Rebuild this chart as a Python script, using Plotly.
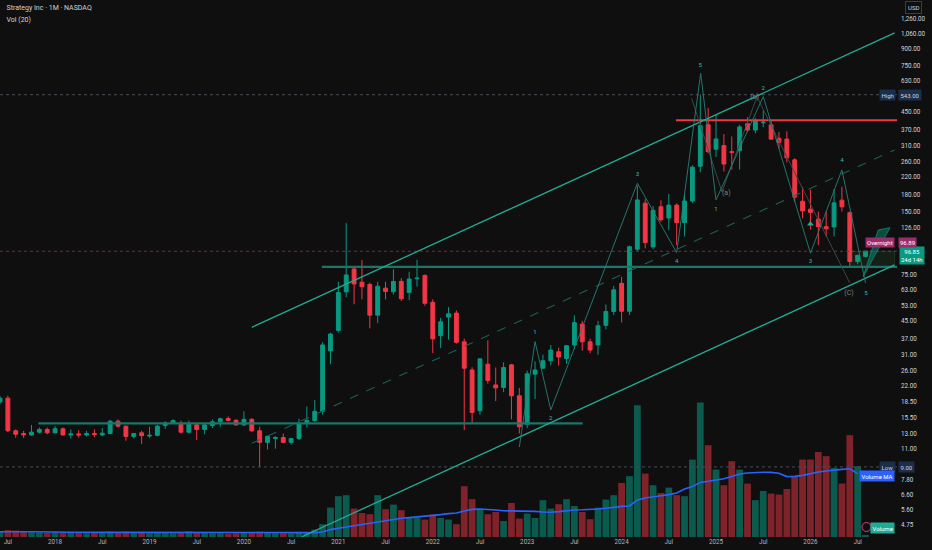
import plotly.graph_objects as go

# ---------------- data (monthly candles, Jun 2017 .. Aug 2026) ----------------
OPEN = [18.4, 19.2, 13.4, 13.0, 12.8, 13.2, 13.6, 13.1, 13.7, 12.8, 12.95, 12.8, 13.0, 12.8, 13.0, 14.9, 14.1, 12.6,
        13.1, 12.65, 12.75, 14.2, 14.6, 14.4, 13.2, 14.3, 13.6, 14.2, 14.8, 15.35, 15.05, 14.3, 15.2, 13.4, 11.8, 12.3,
        12.45, 11.8, 12.3, 14.5, 15.0, 16.6, 32.3, 40.5, 61.9, 79.7, 68.9, 67.2, 47.9, 64.5, 62.0, 69.5, 61.5, 71.5,
        74.2, 55.2, 38.2, 46.9, 49.0, 35.7, 26.2, 16.7, 27.9, 22.2, 21.6, 27.7, 19.7, 14.4, 25.0, 26.7, 29.0, 32.0,
        29.7, 34.5, 43.4, 35.7, 34.5, 42.8, 49.9, 68.0, 50.0, 99.0, 164.5, 101.6, 158.2, 139.6, 161.0, 132.7, 168.4,
        247.0, 390.0, 298.0, 310.0, 290.0, 293.0, 395.0, 368.0, 399.0, 390.0, 336.0, 333.0, 265.0, 168.0, 154.0,
        138.0, 127.0, 126.5, 170.0, 148.0, 86.5, 91.5]
HIGH = [19.6, 19.7, 13.6, 13.4, 14.3, 13.9, 13.9, 14.1, 13.9, 13.6, 13.5, 13.4, 13.6, 13.8, 15.1, 15.2, 14.2, 13.1,
        13.4, 14.0, 14.3, 14.9, 15.2, 15.0, 15.0, 14.5, 14.4, 15.2, 15.5, 15.7, 15.2, 16.6, 15.4, 14.0, 12.7, 12.6,
        13.0, 12.4, 15.3, 17.5, 18.8, 35.5, 39.5, 69.2, 132.0, 81.5, 88.0, 68.5, 69.2, 69.2, 79.4, 72.0, 77.3, 88.2,
        75.0, 57.0, 46.5, 52.3, 50.5, 37.0, 27.0, 29.7, 36.3, 26.9, 28.5, 28.0, 21.5, 26.0, 28.8, 31.0, 34.5, 33.5,
        34.5, 47.8, 45.0, 37.0, 45.0, 53.9, 66.0, 73.0, 103.0, 200.0, 172.0, 159.0, 170.0, 182.0, 164.0, 181.0, 250.0,
        543.0, 470.0, 435.0, 352.0, 343.0, 390.0, 424.0, 420.0, 457.0, 405.0, 360.0, 363.0, 270.0, 197.0, 191.0,
        150.0, 150.0, 192.0, 197.0, 150.0, 93.0, 97.5]
LOW = [18.0, 13.2, 12.4, 12.4, 12.7, 13.0, 12.9, 13.0, 12.7, 12.3, 12.4, 12.6, 12.5, 12.6, 12.9, 13.9, 12.0, 12.3,
       11.6, 12.4, 12.6, 13.7, 14.4, 13.0, 13.0, 12.1, 12.9, 13.8, 14.0, 14.9, 14.2, 14.1, 13.2, 9.0, 10.9, 11.0,
       11.7, 11.5, 12.1, 13.9, 14.8, 16.0, 27.9, 39.5, 58.4, 54.0, 57.0, 41.4, 43.9, 57.0, 60.0, 56.0, 56.5, 65.5,
       53.1, 31.5, 33.3, 36.6, 35.0, 13.5, 14.6, 16.0, 22.5, 18.6, 20.5, 15.2, 13.0, 13.8, 19.0, 26.5, 27.5, 27.5,
       28.0, 33.0, 32.4, 31.5, 31.0, 41.0, 48.0, 44.2, 48.0, 97.0, 100.0, 99.0, 134.0, 122.0, 103.5, 114.0, 165.0,
       231.0, 285.0, 274.0, 233.0, 238.0, 238.0, 360.0, 355.0, 380.0, 330.0, 300.0, 258.0, 167.0, 139.0, 123.0,
       103.6, 114.0, 114.0, 150.0, 82.0, 84.0, 90.5]
CLOSE = [19.2, 13.4, 12.9, 12.8, 13.2, 13.6, 13.1, 13.7, 12.8, 12.95, 12.8, 13.0, 12.85, 13.05, 14.9, 14.1, 12.6, 13.0,
         12.7, 12.75, 14.1, 14.6, 15.0, 13.2, 14.4, 13.6, 14.3, 14.8, 15.3, 15.0, 14.3, 15.2, 13.4, 11.8, 12.6, 12.45,
         11.8, 12.3, 14.5, 15.0, 16.6, 34.5, 38.9, 61.4, 74.6, 67.5, 65.5, 47.9, 65.9, 62.2, 69.4, 57.4, 71.3, 72.0,
         54.6, 36.9, 44.5, 48.6, 35.5, 26.7, 16.4, 29.6, 23.3, 21.5, 26.9, 19.7, 14.0, 25.1, 26.2, 29.0, 32.6, 30.2,
         34.2, 44.1, 35.7, 32.6, 42.6, 49.9, 63.3, 50.0, 101.8, 170.4, 106.5, 152.0, 137.0, 161.0, 132.7, 168.4, 244.5,
         386.0, 290.0, 333.7, 253.0, 288.0, 381.0, 368.0, 405.0, 401.0, 333.0, 321.0, 271.0, 176.0, 151.0, 148.5,
         127.0, 124.0, 165.0, 158.0, 86.5, 92.6, 96.85]
VOLUME = [30, 34, 32, 25, 23, 22, 20, 23, 24, 22, 20, 19, 20, 20, 27, 23, 27, 20, 22, 19, 22, 20, 19, 23, 28, 23,
          20, 19, 19, 17, 19, 20, 22, 27, 22, 19, 19, 19, 23, 25, 37, 64, 147, 204, 209, 142, 120, 114, 209, 139,
          162, 134, 97, 97, 87, 112, 95, 87, 64, 254, 189, 139, 114, 125, 80, 170, 92, 117, 95, 184, 142, 164, 189,
          155, 125, 89, 147, 187, 209, 270, 304, 659, 317, 259, 220, 247, 209, 204, 387, 672, 459, 337, 259, 379,
          337, 267, 184, 230, 217, 212, 240, 300, 387, 387, 425, 404, 345, 267, 509, 354, 10]
VOL_MA = [26, 27, 27, 26, 26, 25, 25, 25, 24, 24, 24, 23, 23, 23, 23, 23, 23, 23, 22, 22, 22, 22, 22, 22, 22, 22,
          22, 21, 21, 21, 21, 21, 21, 21, 21, 21, 21, 21, 21, 21, 22, 25, 37, 44, 50, 56, 62, 70, 76, 83, 89, 94, 97,
          100, 104, 108, 112, 117, 120, 130, 138, 140, 139, 135, 131, 131, 130, 130, 128, 125, 124, 127, 132, 135,
          136, 137, 140, 144, 150, 153, 155, 185, 195, 202, 206, 212, 220, 240, 253, 273, 280, 287, 291, 303, 315,
          320, 323, 324, 323, 319, 302, 303, 308, 318, 325, 330, 335, 338, 341, 317]

X_TICK_POS = [1, 7, 13, 19, 25, 31, 37, 43, 49, 55, 61, 67, 73, 79, 85, 91, 97, 103, 109]
X_TICK_TEXT = ['Jul', '2018', 'Jul', '2019', 'Jul', '2020', 'Jul', '2021', 'Jul', '2022', 'Jul', '2023',
               'Jul', '2024', 'Jul', '2025', 'Jul', '2026', 'Jul']
PRICE_TICKS = [1260, 1060, 900, 750, 630, 450, 370, 310, 260, 220, 180, 150, 126, 75, 63, 53, 45, 37, 31, 26,
               22, 18.5, 15.5, 13, 11, 7.8, 6.6, 5.6, 4.75]

HIGH_MARK = 543.0
LOW_MARK = 9.0
LAST_PRICE = 96.85
OVERNIGHT_PRICE = 96.89

# drawings (month index, price)
UPPER_CH_X, UPPER_CH_Y = [32.0, 113.7], [41.9, 1073]
LOWER_CH_X, LOWER_CH_Y = [38.35, 113.7], [4.17, 83.3]
MID_CH_X, MID_CH_Y = [32.0, 113.7], [11.67, 295.7]
SUP_LOW_X, SUP_LOW_Y = [4.88, 74.05], [14.53, 14.53]
SUP_HIGH_X, SUP_HIGH_Y = [40.9, 114.0], [81.5, 81.5]
RESIST_X, RESIST_Y = [85.9, 114.0], [410, 410]
WAVE_X = [66.0, 68.0, 70.0, 81.0, 86.0, 89.05, 91.0, 97.0, 103.0, 107.0, 110.0]
WAVE_Y = [11.2, 35.8, 16.85, 204.9, 95.4, 688, 170.5, 531.9, 94.7, 237.2, 68.1]
ABC_X = [87.9, 91.75, 96.2, 108.0]
ABC_Y = [522, 186.4, 530, 68.3]
WAVE_LBL_X = [68.0, 70.0, 81.0, 86.0, 89.0, 91.0, 97.0, 103.0, 107.0, 110.05]
WAVE_LBL_Y = [39.4, 15.27, 224.3, 86.1, 753, 152.6, 582, 86.1, 262.8, 61.1]
WAVE_LBL_T = ['1', '2', '3', '4', '5', '1', '2', '3', '4', '5']
ABC_LBL_X = [92.3, 95.9, 107.9]
ABC_LBL_Y = [184.3, 530, 61.1]
ABC_LBL_T = ['(a)', '(b)', '(C)']
TRI_X, TRI_Y = [103.0], [130.7]
ARROW_X = [109.71, 111.61, 113.1, 109.71]
ARROW_Y = [73.2, 122.4, 125.5, 73.2]
ZONE_X = [108.0, 113.7, 113.7, 108.0, 108.0]
ZONE_Y = [81.5, 81.5, 96.85, 96.85, 81.5]

# ---------------- styling ----------------
BG = '#0f0f0f'
UP = '#089981'
DN = '#f23645'
VOL_UP = 'rgba(8,153,129,0.55)'
VOL_DN = 'rgba(242,54,69,0.5)'
TEAL = '#22ab94'
FONT = 'Roboto'
PLOT_W, PLOT_H = 897, 537

idx = list(range(len(OPEN)))
vol_colors = [VOL_UP if c >= o else VOL_DN for o, c in zip(OPEN, CLOSE)]

fig = go.Figure()

fig.add_trace(go.Bar(x=idx, y=VOLUME, marker=dict(color=vol_colors, line=dict(width=0)),
                     width=0.86, yaxis='y', hoverinfo='skip'))
fig.add_trace(go.Scatter(x=idx[:len(VOL_MA)], y=VOL_MA, mode='lines',
                         line=dict(color='#2962ff', width=1.6), yaxis='y', hoverinfo='skip'))


def pline(x, y, color, width=1, dash='solid', opacity=1.0):
    fig.add_trace(go.Scatter(x=x, y=y, mode='lines', yaxis='y2', opacity=opacity,
                             line=dict(color=color, width=width, dash=dash), hoverinfo='skip'))


# dotted reference lines
pline([0, 114], [HIGH_MARK, HIGH_MARK], '#4a4d56', 1, 'dot')
pline([0, 114], [LOW_MARK, LOW_MARK], '#4a4d56', 1, 'dot')
pline([0, 114], [LAST_PRICE, LAST_PRICE], '#6e2f58', 1, 'dot')

# zone
fig.add_trace(go.Scatter(x=ZONE_X, y=ZONE_Y, mode='lines', fill='toself', yaxis='y2',
                         fillcolor='rgba(76,175,80,0.10)', line=dict(color='rgba(76,175,80,0.18)', width=1),
                         hoverinfo='skip'))

fig.add_trace(go.Candlestick(x=idx, open=OPEN, high=HIGH, low=LOW, close=CLOSE, yaxis='y2',
                             whiskerwidth=0,
                             increasing=dict(line=dict(color=UP, width=1), fillcolor=UP),
                             decreasing=dict(line=dict(color=DN, width=1), fillcolor=DN),
                             hoverinfo='skip'))

fig.add_trace(go.Scatter(x=ARROW_X, y=ARROW_Y, mode='lines', fill='toself', yaxis='y2',
                         fillcolor='rgba(8,153,129,0.45)', line=dict(color='#0f7a69', width=1),
                         hoverinfo='skip'))

# drawings
pline(SUP_LOW_X, SUP_LOW_Y, '#1d7568', 2.2)
pline(SUP_HIGH_X, SUP_HIGH_Y, '#1d7568', 2.2)
pline(RESIST_X, RESIST_Y, '#f23645', 2)
pline(UPPER_CH_X, UPPER_CH_Y, TEAL, 1.3)
pline(LOWER_CH_X, LOWER_CH_Y, TEAL, 1.3)
pline(MID_CH_X, MID_CH_Y, '#1b5f55', 1.1, 'dash')
pline(ABC_X, ABC_Y, '#3b4a48', 1)
pline(WAVE_X, WAVE_Y, '#2a7f76', 1, opacity=0.9)

fig.add_trace(go.Scatter(x=WAVE_LBL_X, y=WAVE_LBL_Y, text=WAVE_LBL_T, mode='text', yaxis='y2',
                         textfont=dict(family=FONT, size=6, color='#4fb3a8'), hoverinfo='skip'))
fig.add_trace(go.Scatter(x=ABC_LBL_X, y=ABC_LBL_Y, text=ABC_LBL_T, mode='text', yaxis='y2',
                         textfont=dict(family=FONT, size=7, color='#6f8583'), hoverinfo='skip'))
fig.add_trace(go.Scatter(x=TRI_X, y=TRI_Y, mode='markers', yaxis='y2',
                         marker=dict(symbol='triangle-up', size=6, color='#22ab94'), hoverinfo='skip'))


def px(x):
    return x / PLOT_W


def py(y):
    return 1 - y / PLOT_H


ann = []


def label(text, x, y, bg=None, color='#d1d4dc', size=6, border=None, pad=1.5, anchor='center'):
    d = dict(text=text, x=px(x), y=py(y), xref='paper', yref='paper', showarrow=False,
             xanchor=anchor, yanchor='middle', font=dict(family=FONT, size=size, color=color),
             borderpad=pad)
    if bg:
        d['bgcolor'] = bg
    if border:
        d['bordercolor'] = border
        d['borderwidth'] = 1
    ann.append(d)


label('Strategy Inc · 1M · NASDAQ', 4, 8, size=7, anchor='left')
label('Vol (20)', 4, 19, size=7, anchor='left')
label('USD', 913, 8, bg=BG, border='#3a3d45', pad=2)
label('High', 887.5, 95, bg='#1b2f4d')
label(f'{HIGH_MARK:,.2f}', 910, 95, bg='#1b2f4d')
label('Low', 887, 467, bg='#1b2f4d')
label(f'{LOW_MARK:,.2f}', 906, 467, bg='#1b2f4d')
label('Volume MA', 877, 476, bg='#2962ff', color='#ffffff')
label('Volume', 882, 527.5, bg='#22ab94', color='#ffffff')
label(f'{LAST_PRICE:,.2f}<br>24d 14h', 912, 255, bg=UP, color='#ffffff', pad=1)
label('Overnight', 879.5, 242.5, bg='#9b2c6e', color='#ffffff', pad=1)
label(f'{OVERNIGHT_PRICE:,.2f}', 907, 242.5, bg='#9b2c6e', color='#ffffff', pad=1)

shapes = [dict(type='circle', xref='paper', yref='paper', x0=px(862), x1=px(871), y0=py(531.5), y1=py(522.5),
               line=dict(color='#e0407a', width=1))]

fig.update_layout(
    width=932, height=550,
    margin=dict(l=0, r=35, t=0, b=13),
    paper_bgcolor=BG, plot_bgcolor=BG,
    showlegend=False, hovermode=False,
    annotations=ann, shapes=shapes,
    xaxis=dict(range=[0, 114], showgrid=False, zeroline=False, showline=False, ticks='',
               tickvals=X_TICK_POS, ticktext=X_TICK_TEXT,
               tickfont=dict(family=FONT, size=6.3, color='#b2b5be'),
               rangeslider=dict(visible=False), fixedrange=True),
    yaxis=dict(range=[0, 2685], visible=False, fixedrange=True),
    yaxis2=dict(type='log', range=[0.619, 3.188], overlaying='y', side='right', showgrid=False,
                zeroline=False, showline=False, ticks='',
                tickvals=PRICE_TICKS, ticktext=[f'{v:,.2f}' for v in PRICE_TICKS],
                tickfont=dict(family=FONT, size=6.3, color='#d1d4dc'), ticklabelstandoff=3,
                fixedrange=True),
)

fig.write_html('out.html', config={'displayModeBar': False},
               post_script="document.body.style.margin='0';document.body.style.background='#0f0f0f';")
